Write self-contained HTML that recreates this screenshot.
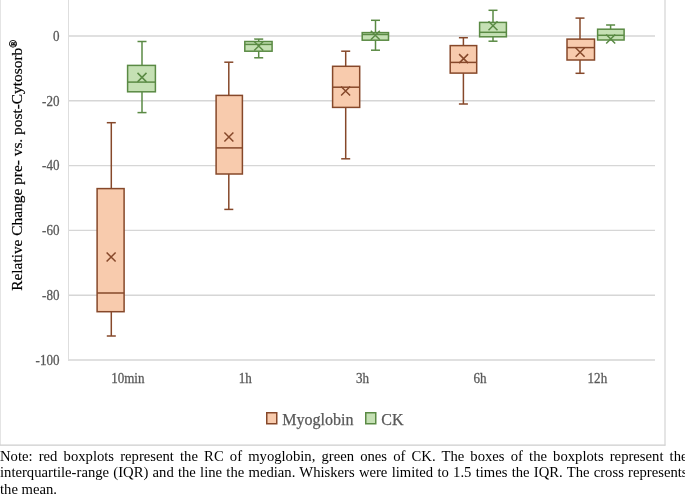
<!DOCTYPE html>
<html><head><meta charset="utf-8"><style>
html,body{margin:0;padding:0;background:#fff;}
body{width:685px;height:497px;overflow:hidden;position:relative;font-family:"Liberation Serif",serif;}
#w{position:absolute;left:0;top:0;width:685px;height:497px;background:#fff;}
svg{position:absolute;left:0;top:0;will-change:transform;}
.n{position:absolute;left:0;font-size:14.67px;line-height:16.8px;color:#000;white-space:nowrap;width:687.5px;text-align:justify;text-align-last:justify;}
.n3{text-align:left;text-align-last:left;}
</style></head><body><div id="w">
<svg width="685" height="497" viewBox="0 0 685 497">
<line x1="0.5" y1="0" x2="0.5" y2="445" stroke="#e4e4e4" stroke-width="1"/>
<line x1="0" y1="445.1" x2="665.5" y2="445.1" stroke="#cdcdcd" stroke-width="1.2"/>
<line x1="665" y1="0" x2="665" y2="445.5" stroke="#d4d4d4" stroke-width="1.2"/>
<g stroke="#d6d6d6" stroke-width="1.4"><line x1="68" y1="36.0" x2="655" y2="36.0"/><line x1="68" y1="100.8" x2="655" y2="100.8"/><line x1="68" y1="165.6" x2="655" y2="165.6"/><line x1="68" y1="230.4" x2="655" y2="230.4"/><line x1="68" y1="295.2" x2="655" y2="295.2"/><line x1="68" y1="360.0" x2="655" y2="360.0"/></g>
<line x1="68.5" y1="0" x2="68.5" y2="360.7" stroke="#dedede" stroke-width="1"/>
<g font-family="Liberation Serif" font-size="14.5" fill="#595959" stroke="#595959" stroke-width="0.3"><text transform="translate(59.5,40.6) scale(0.9,1)" text-anchor="end">0</text><text transform="translate(59.5,105.5) scale(0.9,1)" text-anchor="end">-20</text><text transform="translate(59.5,170.4) scale(0.9,1)" text-anchor="end">-40</text><text transform="translate(59.5,235.4) scale(0.9,1)" text-anchor="end">-60</text><text transform="translate(59.5,300.3) scale(0.9,1)" text-anchor="end">-80</text><text transform="translate(59.5,365.2) scale(0.9,1)" text-anchor="end">-100</text><text transform="translate(127.80,382.6) scale(0.9,1)" text-anchor="middle">10min</text><text transform="translate(245.19,382.6) scale(0.9,1)" text-anchor="middle">1h</text><text transform="translate(362.58,382.6) scale(0.9,1)" text-anchor="middle">3h</text><text transform="translate(479.97,382.6) scale(0.9,1)" text-anchor="middle">6h</text><text transform="translate(597.36,382.6) scale(0.9,1)" text-anchor="middle">12h</text></g>
<text transform="translate(21.6,290.8) rotate(-90)" font-family="Liberation Serif" font-size="15" fill="#000" stroke="#000" stroke-width="0.2" textLength="243" lengthAdjust="spacingAndGlyphs">Relative Change pre- vs. post-Cytosorb</text><text transform="translate(17.3,40) rotate(-90)" text-anchor="end" font-family="Liberation Serif" font-size="10.5" font-weight="bold" fill="#000" stroke="#000" stroke-width="0.35">®</text>
<g stroke="#86482A" stroke-width="1.5"><line x1="111.3" y1="122.7" x2="111.3" y2="188.6"/><line x1="111.3" y1="311.7" x2="111.3" y2="336.0"/><line x1="106.8" y1="122.7" x2="115.8" y2="122.7"/><line x1="106.8" y1="336.0" x2="115.8" y2="336.0"/><rect x="97.1" y="188.6" width="27.00" height="123.10" fill="#F8CBAD"/><line x1="97.1" y1="293.0" x2="124.1" y2="293.0"/><path d="M106.6 252.5L115.6 261.5M106.6 261.5L115.6 252.5" fill="none"/></g><g stroke="#86482A" stroke-width="1.5"><line x1="228.8" y1="62.2" x2="228.8" y2="95.4"/><line x1="228.8" y1="174.0" x2="228.8" y2="209.4"/><line x1="224.3" y1="62.2" x2="233.3" y2="62.2"/><line x1="224.3" y1="209.4" x2="233.3" y2="209.4"/><rect x="216.1" y="95.4" width="26.30" height="78.60" fill="#F8CBAD"/><line x1="216.1" y1="147.9" x2="242.4" y2="147.9"/><path d="M224.4 132.5L233.4 141.5M224.4 141.5L233.4 132.5" fill="none"/></g><g stroke="#86482A" stroke-width="1.5"><line x1="345.7" y1="51.2" x2="345.7" y2="66.3"/><line x1="345.7" y1="107.4" x2="345.7" y2="158.8"/><line x1="341.2" y1="51.2" x2="350.2" y2="51.2"/><line x1="341.2" y1="158.8" x2="350.2" y2="158.8"/><rect x="332.6" y="66.3" width="27.10" height="41.10" fill="#F8CBAD"/><line x1="332.6" y1="87.2" x2="359.7" y2="87.2"/><path d="M341.1 86.5L350.1 95.5M341.1 95.5L350.1 86.5" fill="none"/></g><g stroke="#86482A" stroke-width="1.5"><line x1="463.4" y1="37.7" x2="463.4" y2="45.6"/><line x1="463.4" y1="73.1" x2="463.4" y2="104.0"/><line x1="458.9" y1="37.7" x2="467.9" y2="37.7"/><line x1="458.9" y1="104.0" x2="467.9" y2="104.0"/><rect x="450.2" y="45.6" width="26.50" height="27.50" fill="#F8CBAD"/><line x1="450.2" y1="62.4" x2="476.7" y2="62.4"/><path d="M459.1 54.1L468.1 63.1M459.1 63.1L468.1 54.1" fill="none"/></g><g stroke="#86482A" stroke-width="1.5"><line x1="580.0" y1="18.1" x2="580.0" y2="39.1"/><line x1="580.0" y1="60.0" x2="580.0" y2="73.3"/><line x1="575.5" y1="18.1" x2="584.5" y2="18.1"/><line x1="575.5" y1="73.3" x2="584.5" y2="73.3"/><rect x="567.0" y="39.1" width="27.50" height="20.90" fill="#F8CBAD"/><line x1="567.0" y1="47.6" x2="594.5" y2="47.6"/><path d="M575.6 47.7L584.6 56.7M575.6 56.7L584.6 47.7" fill="none"/></g><g stroke="#5A8A44" stroke-width="1.5"><line x1="142.0" y1="41.5" x2="142.0" y2="65.4"/><line x1="142.0" y1="91.8" x2="142.0" y2="112.6"/><line x1="137.5" y1="41.5" x2="146.5" y2="41.5"/><line x1="137.5" y1="112.6" x2="146.5" y2="112.6"/><rect x="127.6" y="65.4" width="27.80" height="26.40" fill="#C5E0B4"/><line x1="127.6" y1="82.1" x2="155.4" y2="82.1"/><path d="M137.5 72.9L146.5 81.9M137.5 81.9L146.5 72.9" fill="none"/></g><g stroke="#5A8A44" stroke-width="1.5"><line x1="258.7" y1="39.1" x2="258.7" y2="41.5"/><line x1="258.7" y1="51.2" x2="258.7" y2="57.8"/><line x1="254.2" y1="39.1" x2="263.2" y2="39.1"/><line x1="254.2" y1="57.8" x2="263.2" y2="57.8"/><rect x="244.8" y="41.5" width="27.30" height="9.70" fill="#C5E0B4"/><line x1="244.8" y1="44.4" x2="272.1" y2="44.4"/><path d="M254.2 41.5L263.2 50.5M254.2 50.5L263.2 41.5" fill="none"/></g><g stroke="#5A8A44" stroke-width="1.5"><line x1="375.5" y1="20.3" x2="375.5" y2="32.6"/><line x1="375.5" y1="40.2" x2="375.5" y2="50.2"/><line x1="371.0" y1="20.3" x2="380.0" y2="20.3"/><line x1="371.0" y1="50.2" x2="380.0" y2="50.2"/><rect x="362.2" y="32.6" width="26.30" height="7.60" fill="#C5E0B4"/><line x1="362.2" y1="34.5" x2="388.5" y2="34.5"/><path d="M370.8 30.799999999999997L379.8 39.8M370.8 39.8L379.8 30.799999999999997" fill="none"/></g><g stroke="#5A8A44" stroke-width="1.5"><line x1="493.0" y1="10.3" x2="493.0" y2="22.4"/><line x1="493.0" y1="36.8" x2="493.0" y2="41.2"/><line x1="488.5" y1="10.3" x2="497.5" y2="10.3"/><line x1="488.5" y1="41.2" x2="497.5" y2="41.2"/><rect x="479.6" y="22.4" width="26.80" height="14.40" fill="#C5E0B4"/><line x1="479.6" y1="32.3" x2="506.4" y2="32.3"/><path d="M488.5 21.3L497.5 30.3M488.5 30.3L497.5 21.3" fill="none"/></g><g stroke="#5A8A44" stroke-width="1.5"><line x1="610.6" y1="25.0" x2="610.6" y2="29.2"/><line x1="610.6" y1="40.0" x2="610.6" y2="40.0"/><line x1="606.1" y1="25.0" x2="615.1" y2="25.0"/><rect x="597.6" y="29.2" width="26.50" height="10.80" fill="#C5E0B4"/><line x1="597.6" y1="35.3" x2="624.1" y2="35.3"/><path d="M606.2 34.5L615.2 43.5M606.2 43.5L615.2 34.5" fill="none"/></g>
<rect x="266.75" y="412.75" width="10" height="11" fill="#F8CBAD" stroke="#86482A" stroke-width="1.5"/>
<text x="282.3" y="424.6" font-family="Liberation Serif" font-size="16" fill="#595959" stroke="#595959" stroke-width="0.25">Myoglobin</text>
<rect x="365.75" y="412.75" width="10" height="11" fill="#C5E0B4" stroke="#5A8A44" stroke-width="1.5"/>
<text x="381.3" y="424.6" font-family="Liberation Serif" font-size="16" fill="#595959" stroke="#595959" stroke-width="0.25">CK</text>
</svg>
<div class="n" style="top:447.9px">Note: red boxplots represent the RC of myoglobin, green ones of CK. The boxes of the boxplots represent the</div>
<div class="n" style="top:463.9px">interquartile-range (IQR) and the line the median. Whiskers were limited to 1.5 times the IQR. The cross represents</div>
<div class="n n3" style="top:481.1px">the mean.</div>
</div></body></html>
